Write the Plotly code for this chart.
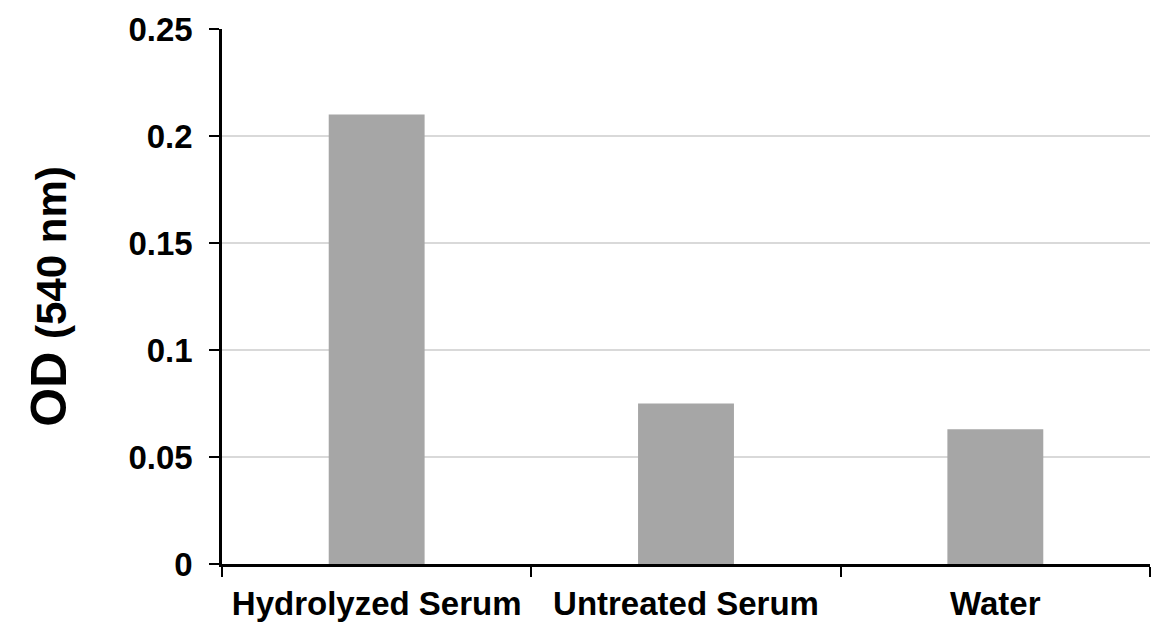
import plotly.graph_objects as go

categories = ["Hydrolyzed Serum", "Untreated Serum", "Water"]
od_values = [0.21, 0.075, 0.063]
y_ticks = [0, 0.05, 0.1, 0.15, 0.2, 0.25]

FONT = "Liberation Sans, Arial, sans-serif"

fig = go.Figure(go.Bar(x=categories, y=od_values, marker=dict(color="#a6a6a6", line=dict(width=0))))

fig.update_layout(
    width=1173, height=635,
    margin=dict(l=214, r=31, t=21, b=79),
    plot_bgcolor="white", paper_bgcolor="white",
    bargap=0.69,
    showlegend=False,
    font=dict(family=FONT, color="black"),
)
fig.update_xaxes(
    automargin=False,
    showline=True, linecolor="black", linewidth=2.5,
    ticks="outside", tickson="boundaries", ticklen=10, tickwidth=2, tickcolor="black",
    ticklabelstandoff=9,
    tickfont=dict(family=FONT, size=33, weight=700, color="black"),
    showgrid=False, zeroline=False,
)
fig.update_yaxes(
    automargin=False,
    range=[0, 0.25], tickvals=y_ticks,
    showline=True, linecolor="black", linewidth=2.5,
    ticks="outside", ticklen=10, tickwidth=2, tickcolor="black",
    ticklabelstandoff=10,
    tickfont=dict(family=FONT, size=33, weight=700, color="black"),
    showgrid=True, gridcolor="#d9d9d9", gridwidth=2,
    zeroline=False,
    title=dict(text="<span style='font-size:50px'>OD</span> <span style='font-size:42px'>(540 nm)</span>",
               font=dict(family=FONT, size=46, weight=700, color="black"), standoff=48),
)
fig.write_html("out.html")
